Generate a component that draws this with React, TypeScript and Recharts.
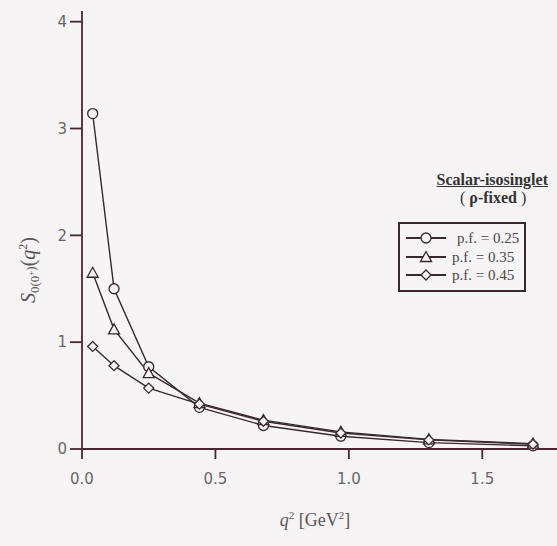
import { LineChart, Line, XAxis, YAxis, Legend } from 'recharts';

// q^2 [GeV^2] sample points
const qSquared = [0.04, 0.12, 0.25, 0.44, 0.68, 0.97, 1.3, 1.69];
// S(q^2) for each p.f. value
const pf025 = [3.14, 1.5, 0.77, 0.39, 0.22, 0.12, 0.06, 0.03];
const pf035 = [1.65, 1.12, 0.71, 0.43, 0.27, 0.16, 0.09, 0.05];
const pf045 = [0.96, 0.78, 0.57, 0.42, 0.26, 0.15, 0.085, 0.045];
const seriesNames = ['p.f. = 0.25', 'p.f. = 0.35', 'p.f. = 0.45'];
const xTicks = [0, 0.5, 1.0, 1.5];
const yTicks = [0, 1, 2, 3, 4];

const INK = '#3a2830';
const AXIS = '#4a2632';
const TEXT = '#5a5558';
const BG = '#f6f4f5';

const data = qSquared.map((q, i) => ({ q, a: pf025[i], b: pf035[i], c: pf045[i] }));

function Marker({ shape, cx, cy }: { shape: string; cx: number; cy: number }) {
  if (shape === 'circle') {
    return <circle cx={cx} cy={cy} r={5} fill={BG} stroke={INK} strokeWidth={1.3} />;
  }
  if (shape === 'triangle') {
    return (
      <polygon
        points={`${cx},${cy - 5.5} ${cx - 5.5},${cy + 4.5} ${cx + 5.5},${cy + 4.5}`}
        fill={BG}
        stroke={INK}
        strokeWidth={1.3}
      />
    );
  }
  return (
    <polygon
      points={`${cx},${cy - 5} ${cx + 5},${cy} ${cx},${cy + 5} ${cx - 5},${cy}`}
      fill={BG}
      stroke={INK}
      strokeWidth={1.3}
    />
  );
}

const dotFor = (shape: string) => (props: any) =>
  <Marker key={`${shape}-${props.index}`} shape={shape} cx={props.cx} cy={props.cy} />;

const shapes = ['circle', 'triangle', 'diamond'];

function LegendBox() {
  return (
    <div
      style={{
        boxSizing: 'border-box',
        border: `2px solid ${INK}`,
        width: 128,
        padding: '5px 0 5px 4px',
        fontFamily: '"Liberation Serif", serif',
        fontSize: 15,
        color: '#4a4548',
        lineHeight: '18.5px',
        background: BG,
        textAlign: 'left',
      }}
    >
      {seriesNames.map((name, i) => (
        <div key={name} style={{ display: 'flex', alignItems: 'center' }}>
          <svg width={44} height={18}>
            <line x1={2} y1={9} x2={42} y2={9} stroke={INK} strokeWidth={2} />
            <Marker shape={shapes[i]} cx={22} cy={9} />
          </svg>
          <span style={{ marginLeft: i === 0 ? 9 : 4 }}>{name}</span>
        </div>
      ))}
    </div>
  );
}

function YLabel() {
  return (
    <text
      x={35}
      y={270}
      transform="rotate(-90, 35, 270)"
      textAnchor="middle"
      fill={TEXT}
      fontFamily='"Liberation Serif", serif'
      fontSize={20}
    >
      <tspan fontStyle="italic">S</tspan>
      <tspan fontSize={13} dy={4}>0(0</tspan>
      <tspan fontSize={9} dy={-5}>+</tspan>
      <tspan fontSize={13} dy={1}>)</tspan>
      <tspan dy={0}>(</tspan>
      <tspan fontStyle="italic">q</tspan>
      <tspan fontSize={12} dy={-8}>2</tspan>
      <tspan dy={8}>)</tspan>
    </text>
  );
}

function XLabel() {
  return (
    <text x={315} y={526} textAnchor="middle" fill={TEXT} fontFamily='"Liberation Serif", serif' fontSize={18}>
      <tspan fontStyle="italic">q</tspan>
      <tspan fontSize={11} dy={-7}>2</tspan>
      <tspan dy={7}> [GeV</tspan>
      <tspan fontSize={11} dy={-7}>2</tspan>
      <tspan dy={7}>]</tspan>
    </text>
  );
}

export default function App() {
  return (
    <div style={{ position: 'absolute', left: 0, top: 0, width: 557, height: 546, background: BG }}>
      <LineChart width={557} height={546} data={data} margin={{ top: 11, right: 0, bottom: 0, left: 0 }}>
        <XAxis
          type="number"
          dataKey="q"
          domain={[0, 1.78]}
          ticks={xTicks}
          tickFormatter={(v: number) => v.toFixed(1)}
          height={97}
          tickSize={10}
          tickMargin={14}
          stroke={AXIS}
          strokeWidth={1.8}
          tick={{ fill: '#6a6568', fontSize: 15, fontFamily: '"DejaVu Sans", sans-serif' }}
          label={{ content: () => <XLabel /> }}
        />
        <YAxis
          type="number"
          domain={[0, 4.1]}
          ticks={yTicks}
          width={82}
          tickSize={12}
          tickMargin={3}
          stroke={AXIS}
          strokeWidth={1.8}
          tick={{ fill: '#6a6568', fontSize: 15, fontFamily: '"DejaVu Sans", sans-serif' }}
          label={{ content: () => <YLabel /> }}
        />
        <Legend
          layout="vertical"
          align="center"
          verticalAlign="middle"
          content={() => <LegendBox />}
          wrapperStyle={{ position: 'absolute', left: 398, top: 222, width: 128, bottom: 'auto' }}
        />
        <Line dataKey="a" name={seriesNames[0]} type="linear" stroke={INK} strokeWidth={1.4} dot={dotFor('circle')} isAnimationActive={false} />
        <Line dataKey="b" name={seriesNames[1]} type="linear" stroke={INK} strokeWidth={1.4} dot={dotFor('triangle')} isAnimationActive={false} />
        <Line dataKey="c" name={seriesNames[2]} type="linear" stroke={INK} strokeWidth={1.4} dot={dotFor('diamond')} isAnimationActive={false} />
      </LineChart>
      <div
        style={{
          position: 'absolute',
          right: 9,
          top: 172,
          fontFamily: '"Liberation Serif", serif',
          fontSize: 16,
          lineHeight: '16px',
          fontWeight: 'bold',
          textDecoration: 'underline',
          color: '#333',
        }}
      >
        Scalar-isosinglet
      </div>
      <div
        style={{
          position: 'absolute',
          left: 460,
          top: 190,
          fontFamily: '"Liberation Serif", serif',
          fontSize: 16,
          lineHeight: '16px',
          color: '#333',
          whiteSpace: 'pre',
        }}
      >
        {'( '}
        <b>ρ-fixed</b>
        {' )'}
      </div>
    </div>
  );
}
